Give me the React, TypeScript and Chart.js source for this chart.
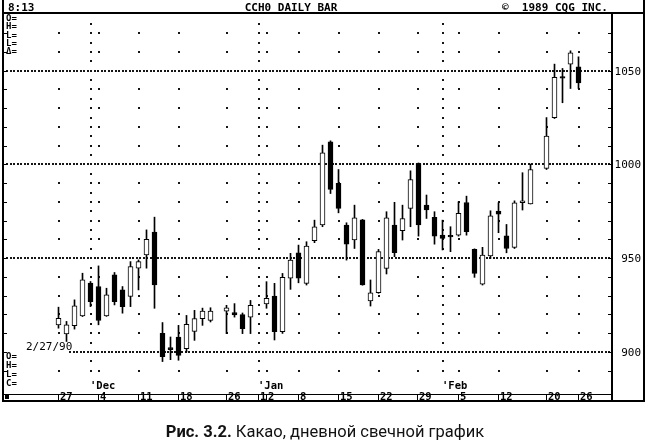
import React, { useEffect, useRef } from "react";
import { Chart, registerables } from "chart.js";

Chart.register(...registerables);

// trading-day slot index (0 = Nov 27 1989; holidays keep an empty slot)
const slots = [0, 1, 2, 3, 4, 5, 6, 7, 8, 9, 10, 11, 12, 13, 14, 15, 16, 17, 18, 19, 21, 22, 23, 24, 26, 27, 28, 29, 30, 31, 32, 33, 34, 35, 36, 37, 38, 39, 40, 41, 42, 43, 44, 45, 46, 47, 48, 49, 50, 51, 52, 53, 54, 55, 56, 57, 58, 59, 61, 62, 63, 64, 65];
const opens = [914.5, 909.7, 914, 919.3, 936.7, 934.9, 919.3, 941.1, 933.1, 929.6, 944.7, 951.8, 963.9, 910, 902.3, 908, 901.8, 911, 917.8, 916.9, 921.8, 921, 919.9, 918.6, 925.6, 929.8, 910.8, 939.3, 952.9, 936.6, 959.3, 967.7, 1012.1, 989.9, 967.7, 959.7, 970.5, 927.2, 931.6, 944.6, 967.7, 964.7, 976.6, 1000.5, 978.3, 971.8, 962.3, 962.2, 962.3, 979.7, 954.7, 936.2, 951.2, 975.1, 962, 955.8, 979.6, 978.9, 997.9, 1025, 1046.8, 1053.5, 1052];
const highs = [923.9, 916.3, 927.8, 942, 937.6, 945.9, 934, 942.4, 934.9, 948.2, 949.1, 965.1, 971.9, 915.7, 908, 914.2, 919.5, 922.2, 923.4, 923.6, 924.9, 925.8, 920.8, 927.5, 937.5, 936.6, 941.9, 952.6, 957, 958.8, 970.3, 1010.3, 1012.6, 997.3, 968.9, 978.3, 970.7, 938.4, 954.7, 974.8, 979.8, 978.3, 996.6, 1000.8, 983.7, 974.8, 970.3, 966.8, 980.1, 983.1, 955, 955.8, 975.3, 979.6, 968, 980.6, 995.6, 1000.2, 1025, 1053.5, 1051.2, 1060.6, 1057.4];
const lows = [912.7, 905.6, 912.2, 918.9, 924.2, 914.5, 919, 925.1, 920.7, 924.2, 933.1, 944.7, 923.3, 894.9, 895.9, 895.6, 900, 906.2, 914.2, 916, 909.8, 918.6, 909.8, 909.8, 923.3, 906.4, 909.9, 933.4, 936.9, 935.7, 958.3, 966.8, 984.5, 974.2, 949, 955.2, 935.6, 924.5, 931.3, 941.6, 950.8, 959.7, 966.8, 961.8, 971.2, 957.5, 954.4, 953.5, 961.8, 962.3, 939.8, 935.7, 949.9, 963.6, 952.9, 955.2, 975.7, 978.9, 997.3, 1024.5, 1032.9, 1040.5, 1040.5];
const closes = [918, 914.5, 924.6, 938.5, 926.9, 916.8, 930.5, 926.9, 924.2, 945.6, 948.2, 960.1, 935.8, 897.5, 901.3, 898.2, 914.7, 917.8, 921.8, 921.8, 923.6, 919.8, 912.4, 924.9, 928.6, 910.8, 939.8, 949, 939.3, 956.5, 966.8, 1006.2, 986.7, 976.6, 957.5, 971.6, 935.8, 931.6, 953.5, 971.6, 953, 971.2, 992, 967.7, 975.7, 961.8, 960.6, 961.4, 973.9, 964.1, 941.9, 951.7, 972.6, 973.5, 955.2, 979.6, 980.6, 997.3, 1015.1, 1046.4, 1046, 1059.5, 1043.5];

// date row
const dateTickSlots = [0, 5, 10, 15, 21, 25, 26, 30, 35, 40, 45, 50, 55, 61, 65];
const dateTickLabels = ["27", "4", "11", "18", "26", "1", "2", "8", "15", "22", "29", "5", "12", "20", "26"];
const weekDotSlots = [0, 5, 10, 15, 21, 26, 30, 35, 40, 45, 50, 55, 61, 65];
const monthSlots = [4, 25, 48];
const monthLabels = ["'Dec", "'Jan", "'Feb"];
const priceLines = [900, 950, 1000, 1050];
const priceLabels = ["900", "950", "1000", "1050"];

const X_MIN = -6.8125;
const X_MAX = 69.1875;
const Y_MIN = 877.6;
const Y_MAX = 1080.23;

const MONO = '"DejaVu Sans Mono", monospace';

const cqgPlugin = {
  id: "cqg",
  beforeDatasetsDraw(chart: any) {
    const { ctx, chartArea: a, scales } = chart;
    const x = scales.x;
    const y = scales.y;
    ctx.save();
    ctx.fillStyle = "#151515";
    priceLines.forEach((v) => {
      const py = Math.round(y.getPixelForValue(v)) - 1;
      const start = v === 900 ? 69 : a.left + 2;
      for (let px = start; px < a.right - 2; px += 3.5) {
        ctx.fillRect(Math.round(px), py, 2, 2);
      }
    });
    weekDotSlots.forEach((s) => {
      const px = Math.round(x.getPixelForValue(s) - 1);
      for (let v = 890; v <= 1070; v += 10) {
        if (v % 50 === 0) continue;
        ctx.fillRect(px, Math.round(y.getPixelForValue(v)) - 1, 2, 2);
      }
    });
    monthSlots.forEach((s) => {
      const px = Math.round(x.getPixelForValue(s) - 1);
      for (let v = 890; v <= 1075; v += 5) {
        if (v % 50 === 0) continue;
        ctx.fillRect(px, Math.round(y.getPixelForValue(v)) - 1, 2, 2);
      }
    });
    ctx.restore();
  },
  afterDraw(chart: any) {
    const { ctx, scales } = chart;
    const x = scales.x;
    const y = scales.y;
    ctx.save();
    ctx.fillStyle = "#000";
    // frame
    ctx.fillRect(2, 0, 2, 402);
    ctx.fillRect(2, 12, 643, 2);
    ctx.fillRect(611, 12, 2, 390);
    ctx.fillRect(643, 0, 2, 402);
    ctx.fillRect(2, 400, 643, 2);
    ctx.fillRect(2, 394, 611, 1);
    for (let v = 890; v <= 1070; v += 10) {
      const py = Math.round(y.getPixelForValue(v));
      ctx.fillRect(4, py, 3, 1);
      ctx.fillRect(608, py, 3, 1);
    }
    // header
    ctx.textBaseline = "alphabetic";
    ctx.font = `bold 11px ${MONO}`;
    ctx.textAlign = "left";
    ctx.fillText("8:13", 8, 10.5);
    ctx.textAlign = "center";
    ctx.fillText("CCH0 DAILY BAR", 291, 10.5);
    ctx.textAlign = "left";
    ctx.fillText("\u00A9  1989 CQG INC.", 502, 10.5);
    // left info labels
    ctx.font = `bold 9px ${MONO}`;
    const topLbl = ["O=", "H=", "L=", "L=", "\u0394="];
    topLbl.forEach((t, i) => ctx.fillText(t, 6, 21 + i * 8.3));
    const botLbl = ["O=", "H=", "L=", "C="];
    botLbl.forEach((t, i) => ctx.fillText(t, 6, 359 + i * 9));
    ctx.font = `11px ${MONO}`;
    ctx.fillText("2/27/90", 26, 350);
    ctx.font = `bold 10.5px ${MONO}`;
    monthSlots.forEach((s, i) => {
      ctx.fillText(monthLabels[i], Math.round(x.getPixelForValue(s)) - 1, 389);
    });
    // price labels
    ctx.font = `11px ${MONO}`;
    ctx.textAlign = "right";
    ctx.textBaseline = "middle";
    priceLines.forEach((v, i) => {
      ctx.fillText(priceLabels[i], 641, y.getPixelForValue(v) + 1);
    });
    // date row
    ctx.textAlign = "left";
    ctx.textBaseline = "alphabetic";
    ctx.fillRect(5, 395, 4, 4);
    ctx.font = `bold 10.5px ${MONO}`;
    dateTickSlots.forEach((s, i) => {
      const px = Math.round(x.getPixelForValue(s)) - 1;
      ctx.fillRect(px, 395, 1, 6);
      ctx.fillText(dateTickLabels[i], px + 2, 399.5);
    });
    ctx.restore();
  },
};

export default function App() {
  const ref = useRef<HTMLCanvasElement | null>(null);
  useEffect(() => {
    if (!ref.current) return;
    const chart = new Chart(ref.current, {
      type: "bar",
      data: {
        datasets: [
          {
            label: "body",
            order: 0,
            grouped: false,
            data: slots.map((s, i) => ({ x: s, y: [opens[i], closes[i]] })),
            backgroundColor: slots.map((_, i) => (closes[i] > opens[i] ? "#ffffff" : "#000000")),
            borderColor: "#000000",
            borderWidth: 1,
            borderSkipped: false,
            barThickness: 5,
          } as any,
          {
            label: "wick",
            order: 1,
            grouped: false,
            data: slots.map((s, i) => ({ x: s, y: [lows[i], highs[i]] })),
            backgroundColor: "#000000",
            borderWidth: 0,
            barThickness: 1,
          } as any,
        ],
      },
      options: {
        animation: false,
        responsive: false,
        events: [],
        layout: { padding: { left: 4, right: 38, top: 14, bottom: 47 } },
        scales: {
          x: { type: "linear", min: X_MIN, max: X_MAX, display: false, offset: false },
          y: { type: "linear", min: Y_MIN, max: Y_MAX, display: false },
        },
        plugins: { legend: { display: false }, tooltip: { enabled: false } },
      } as any,
      plugins: [cqgPlugin],
    });
    return () => chart.destroy();
  }, []);
  return (
    <div style={{ position: "absolute", left: 0, top: 0, width: 650, height: 441, background: "#fff", overflow: "hidden" }}>
      <canvas ref={ref} width={650} height={441} style={{ display: "block" }} />
      <div
        style={{
          position: "absolute",
          left: 0,
          top: 422,
          width: 650,
          textAlign: "center",
          fontFamily: "Roboto, sans-serif",
          fontSize: 16.5,
          lineHeight: "20px",
          color: "#111",
        }}
      >
        <b>Рис. 3.2.</b> Какао, дневной свечной график
      </div>
    </div>
  );
}
